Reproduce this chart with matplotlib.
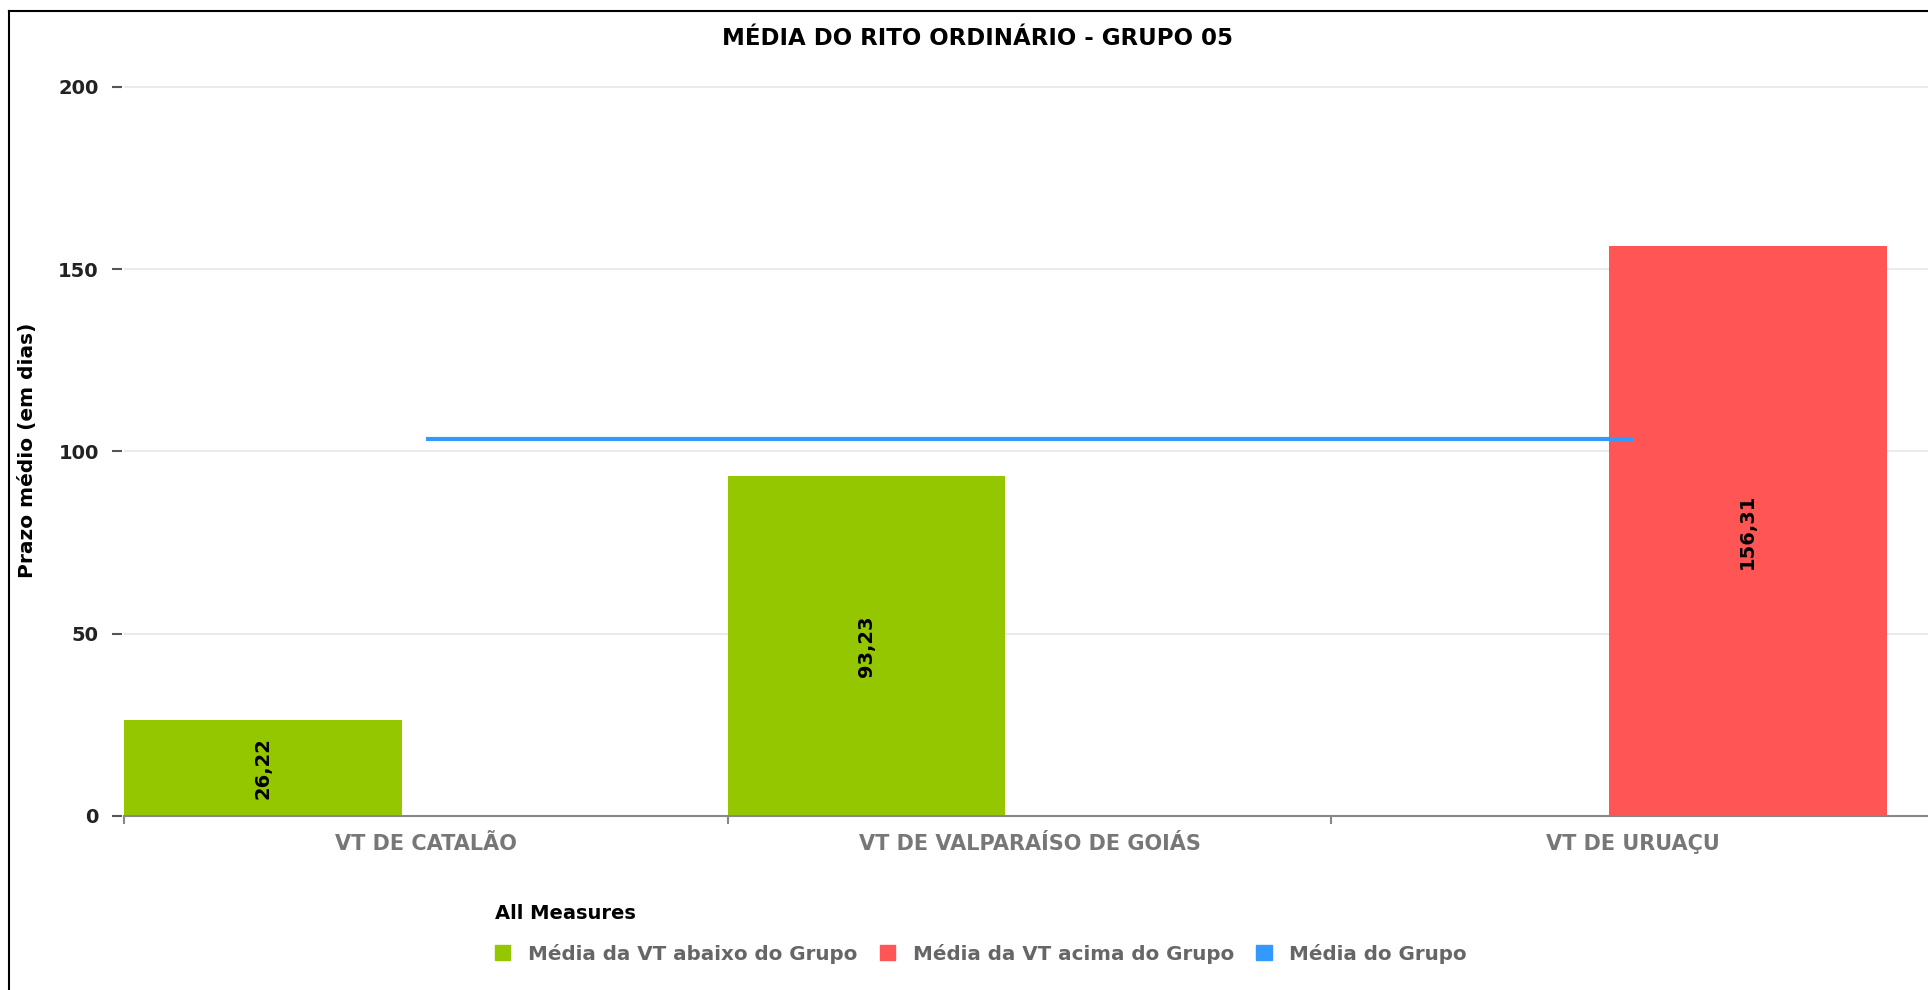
import numpy as np
import matplotlib
matplotlib.use("Agg")
import matplotlib.pyplot as plt
from matplotlib.patches import Patch
from matplotlib.lines import Line2D

plt.rcParams["font.family"] = "DejaVu Sans"

categories = ["VT DE CATALÃO", "VT DE VALPARAÍSO DE GOIÁS", "VT DE URUAÇU"]
abaixo = [26.22, 93.23, np.nan]      # Média da VT abaixo do Grupo
acima = [np.nan, np.nan, 156.31]     # Média da VT acima do Grupo
media_grupo = [103.5, 103.5, 103.5]  # Média do Grupo
yticks = [0, 50, 100, 150, 200]

series_names = ["Média da VT abaixo do Grupo", "Média da VT acima do Grupo", "Média do Grupo"]
c_green = "#95c700"
c_red = "#ff5555"
c_blue = "#3399ff"

fig = plt.figure(figsize=(19.28, 9.9), dpi=100)
ax = fig.add_axes([0.0643, 0.1758, 0.9393, 0.7513])

# spine offset first: it resets the ticks
ax.spines["left"].set_position(("outward", 1.2))
ax.spines["left"].set_visible(False)
ax.spines["top"].set_visible(False)
ax.spines["right"].set_visible(False)
ax.spines["bottom"].set_color("#888888")
ax.spines["bottom"].set_linewidth(1.5)

x = np.arange(len(categories))
bw = 0.46
ax.bar(x - 0.27, abaixo, bw, color=c_green, zorder=2)
ax.bar(x + 0.19, acima, bw, color=c_red, zorder=2)
ax.plot(x, media_grupo, color=c_blue, lw=3, zorder=3, solid_capstyle="butt")

# value labels inside the bars
for xs, vals in ((x - 0.27, abaixo), (x + 0.19, acima)):
    for xi, v in zip(xs, vals):
        if np.isnan(v):
            continue
        ax.text(xi, v / 2, f"{v:.2f}".replace(".", ","), rotation=90,
                ha="center", va="center", fontsize=14, fontweight="bold",
                color="black", zorder=4)

ax.set_xlim(-0.5, 2.5)
ax.set_ylim(0, 204)

ax.set_xticks(x)
ax.set_xticklabels(categories, fontsize=15, fontweight="bold", color="#777777")
ax.set_xticks([-0.5, 0.5, 1.5, 2.5], minor=True)
ax.tick_params(axis="x", which="major", length=0, pad=13)
ax.tick_params(axis="x", which="minor", length=6, width=1.5, color="#888888")

ax.set_yticks(yticks)
ax.set_yticklabels([str(t) for t in yticks], fontsize=14, fontweight="bold", color="#222222")
ax.tick_params(axis="y", length=7, width=1.5, color="#555555", pad=10)

ax.grid(axis="y", color="#e6e6e6", lw=1.2)
ax.set_axisbelow(True)

ax.set_ylabel("Prazo médio (em dias)", fontsize=14.5, fontweight="bold", va="center")
ax.yaxis.set_label_coords(-0.0530, 0.491)

fig.text(0.507, 0.9616, "MÉDIA DO RITO ORDINÁRIO - GRUPO 05",
         ha="center", va="center", fontsize=16.5, fontweight="bold")

handles = [Patch(color=c_green), Patch(color=c_red), Patch(color=c_blue)]
leg = fig.legend(handles, series_names, loc="upper left",
                 bbox_to_anchor=(495 / 1928, 1 - 904 / 990), ncol=3,
                 frameon=False, title="All Measures", alignment="left",
                 title_fontproperties={"weight": "bold", "size": 14},
                 prop={"weight": "bold", "size": 14.3}, labelcolor="#666666",
                 handlelength=0.78, handleheight=0.78, handletextpad=0.9,
                 columnspacing=1.1, labelspacing=1.05, borderpad=0, borderaxespad=0)

# chart frame (right and bottom sides fall outside the picture)
fig.add_artist(Line2D([8.5 / 1928, 1.01], [1 - 11 / 990, 1 - 11 / 990], color="black", lw=1.5))
fig.add_artist(Line2D([8.5 / 1928, 8.5 / 1928], [-0.01, 1 - 11 / 990], color="black", lw=1.5))

fig.savefig("out.png", dpi=100)
